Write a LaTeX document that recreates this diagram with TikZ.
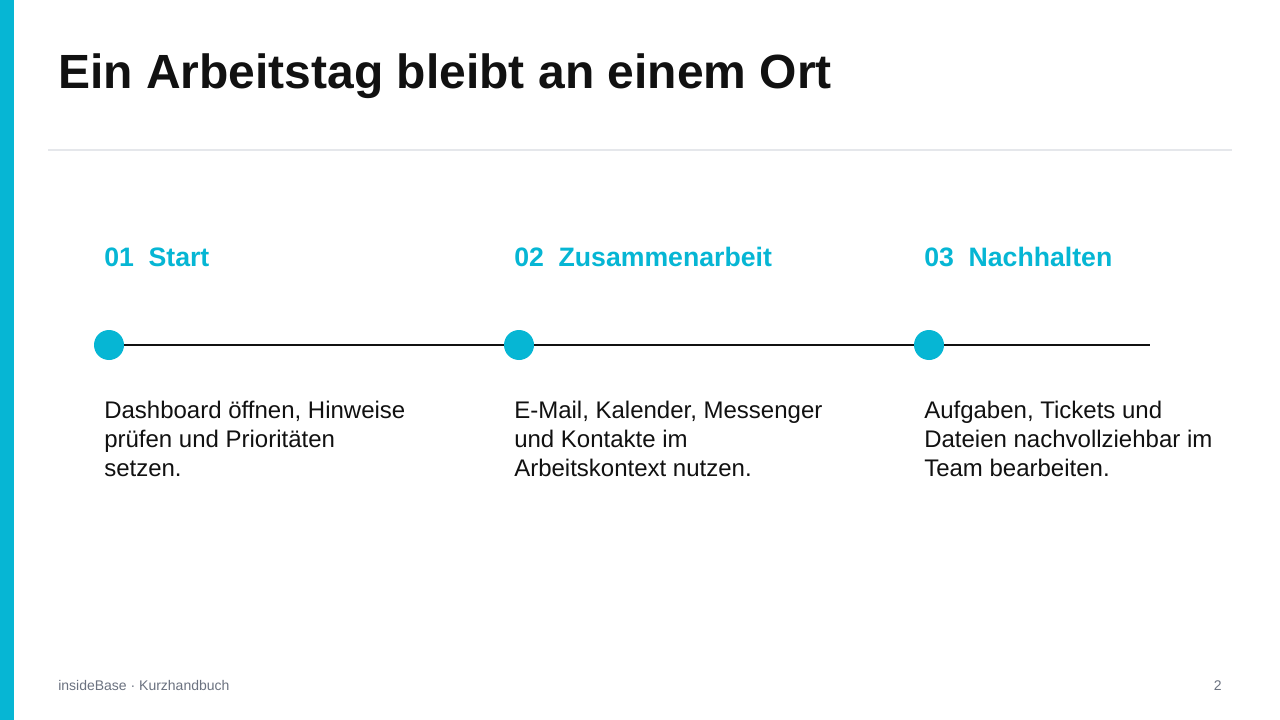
\documentclass[tikz,border=0pt]{standalone}
\usepackage{fontspec}
\setmainfont{Liberation Sans}
\usepackage{tikz}
\usetikzlibrary{positioning}
\definecolor{accent}{HTML}{06B6D4}
\definecolor{ink}{HTML}{111111}
\definecolor{rule}{HTML}{E5E7EB}
\definecolor{muted}{HTML}{6B7280}

\begin{document}
\begin{tikzpicture}[
    x=0.75pt, y=-0.75pt,
    headline/.style={anchor=base west, inner sep=0pt, text=ink, font=\fontsize{36}{40}\selectfont\bfseries},
    stephead/.style={anchor=base west, inner sep=0pt, text=accent, font=\fontsize{20}{24}\selectfont\bfseries},
    stepbody/.style={anchor=base west, inner sep=0pt, text=ink, align=left, font=\fontsize{18}{21.75}\selectfont},
    dot/.style={circle, fill=accent, minimum size=30pt*0.75, inner sep=0pt},
    foot/.style={anchor=base west, inner sep=0pt, text=muted, font=\fontsize{10.5}{12}\selectfont},
]

% Page and accent bar
\useasboundingbox (0,0) rectangle (1280,720);
\fill[white] (0,0) rectangle (1280,720);
\fill[accent] (0,0) rectangle (14,720);

% Title and rule
\node[headline] (title) at (58,89) {Ein Arbeitstag bleibt an einem Ort};
\coordinate (ruleL) at (48,150);
\coordinate (ruleR) at (1232,150);
\draw[rule, line width=1.1pt] (ruleL) -- (ruleR);

% Timeline
\node[dot] (d1) at (109,345) {};
\node[dot] (d2) at (519,345) {};
\node[dot] (d3) at (929,345) {};
\coordinate (lineend) at (1150,345);
\draw[ink, line width=1.5pt] (d1) -- (d2);
\draw[ink, line width=1.5pt] (d2) -- (d3);
\draw[ink, line width=1.5pt] (d3) -- (lineend);

% Step headings
\node[stephead] (h1) at (104,267) {01\hspace{0.55em}Start};
\node[stephead] (h2) at (514,267) {02\hspace{0.55em}Zusammenarbeit};
\node[stephead] (h3) at (924,267) {03\hspace{0.55em}Nachhalten};

% Step texts (base = last line)
\node[stepbody] (t1) at (104,476) {Dashboard öffnen, Hinweise\\prüfen und Prioritäten\\setzen.};
\node[stepbody] (t2) at (514,476) {E-Mail, Kalender, Messenger\\und Kontakte im\\Arbeitskontext nutzen.};
\node[stepbody] (t3) at (924,476) {Aufgaben, Tickets und\\Dateien nachvollziehbar im\\Team bearbeiten.};

% Footer
\node[foot] (footer) at (58,690) {insideBase · Kurzhandbuch};
\node[foot, anchor=base east] (page) at (1222,690) {2};

\end{tikzpicture}
\end{document}
